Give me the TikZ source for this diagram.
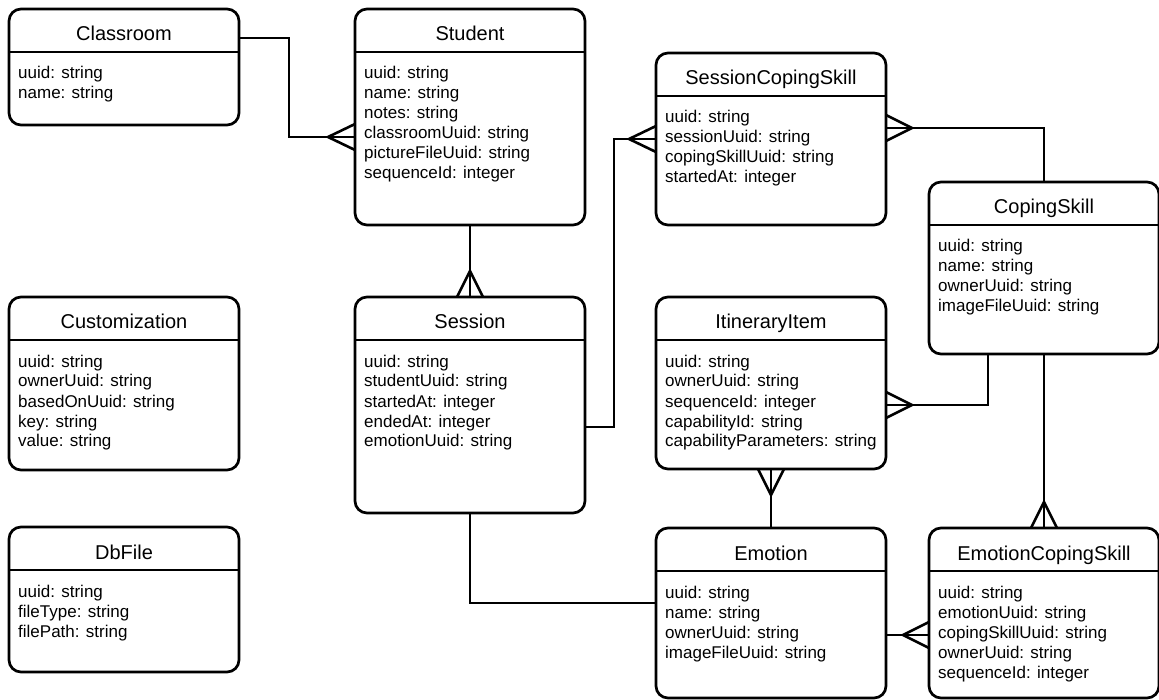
\documentclass[tikz,border=0pt]{standalone}
\usepackage{fontspec}
\setmainfont{Liberation Sans}
\usetikzlibrary{calc}
\tikzset{
  entbox/.style={draw, line width=2.7pt, rounded corners=12pt, rectangle, minimum width=230pt, anchor=north west, inner sep=0pt, outer sep=0pt, fill=white},
  entline/.style={line width=2.7pt},
  enttitle/.style={anchor=base, inner sep=0pt, font=\fontsize{20}{24}\selectfont},
  entbody/.style={anchor=base west, inner sep=0pt, font=\fontsize{17}{20}\selectfont},
  conn/.style={line width=2.6pt, line join=miter},
}
\newcommand\entity[6]{%
  \node[entbox, minimum height=#4pt] (#1) at (#2,#3) {};
  \draw[entline] ([yshift=-43pt]#1.north west) -- ([yshift=-43pt]#1.north east);
  \node[enttitle] (#1-title) at ([yshift=-32pt]#1.north) {#5};
  \node[entbody] (#1-body) at ([xshift=9pt,yshift=-70pt]#1.north west) {\begin{tabular}[t]{@{}l@{}}#6\end{tabular}};
}
\begin{document}
\begin{tikzpicture}[x=1pt,y=-1pt]
\fill[white] (0,0) rectangle (1159,700);
\useasboundingbox (0,0) rectangle (1159,700);

\entity{classroom}{9}{9}{116}{Classroom}{uuid: string\\name: string}
\entity{student}{355}{9}{216}{Student}{uuid: string\\name: string\\notes: string\\classroomUuid: string\\pictureFileUuid: string\\sequenceId: integer}
\entity{scs}{656}{53}{172}{SessionCopingSkill}{uuid: string\\sessionUuid: string\\copingSkillUuid: string\\startedAt: integer}
\entity{coping}{929}{182}{172}{CopingSkill}{uuid: string\\name: string\\ownerUuid: string\\imageFileUuid: string}
\entity{custom}{9}{297}{173}{Customization}{uuid: string\\ownerUuid: string\\basedOnUuid: string\\key: string\\value: string}
\entity{session}{355}{297}{216}{Session}{uuid: string\\studentUuid: string\\startedAt: integer\\endedAt: integer\\emotionUuid: string}
\entity{itin}{656}{297}{172}{ItineraryItem}{uuid: string\\ownerUuid: string\\sequenceId: integer\\capabilityId: string\\capabilityParameters: string}
\entity{dbfile}{9}{527}{145}{DbFile}{uuid: string\\fileType: string\\filePath: string}
\entity{emotion}{656}{528}{170}{Emotion}{uuid: string\\name: string\\ownerUuid: string\\imageFileUuid: string}
\entity{ecs}{929}{528}{170}{EmotionCopingSkill}{uuid: string\\emotionUuid: string\\copingSkillUuid: string\\ownerUuid: string\\sequenceId: integer}

% Classroom -- Student
\draw[conn] ($(classroom.north east)+(0,29)$) -| ($(student.north west)+(-66,128)$) -- ($(student.north west)+(0,128)$);
\draw[conn] ($(student.north west)+(0,115)$) -- ($(student.north west)+(-27,128)$) -- ($(student.north west)+(0,141)$);

% Student -- Session
\draw[conn] (student.south) -- (session.north);
\draw[conn] ($(session.north)+(-13,0)$) -- ($(session.north)+(0,-26)$) -- ($(session.north)+(13,0)$);

% Session -- SessionCopingSkill
\draw[conn] ($(session.north east)+(0,130)$) -| ($(scs.north west)+(-42,86)$) -- ($(scs.north west)+(0,86)$);
\draw[conn] ($(scs.north west)+(0,73)$) -- ($(scs.north west)+(-27,86)$) -- ($(scs.north west)+(0,99)$);

% SessionCopingSkill -- CopingSkill
\draw[conn] ($(scs.north east)+(0,75)$) -| (coping.north);
\draw[conn] ($(scs.north east)+(0,62)$) -- ($(scs.north east)+(26,75)$) -- ($(scs.north east)+(0,88)$);

% CopingSkill -- ItineraryItem
\draw[conn] ($(coping.south west)+(59,0)$) |- ($(itin.north east)+(0,108)$);
\draw[conn] ($(itin.north east)+(0,95)$) -- ($(itin.north east)+(26,108)$) -- ($(itin.north east)+(0,121)$);

% CopingSkill -- EmotionCopingSkill
\draw[conn] (coping.south) -- (ecs.north);
\draw[conn] ($(ecs.north)+(-13,0)$) -- ($(ecs.north)+(0,-26)$) -- ($(ecs.north)+(13,0)$);

% ItineraryItem -- Emotion
\draw[conn] (itin.south) -- (emotion.north);
\draw[conn] ($(itin.south)+(-13,0)$) -- ($(itin.south)+(0,26)$) -- ($(itin.south)+(13,0)$);

% Emotion -- EmotionCopingSkill
\draw[conn] ($(emotion.north east)+(0,107)$) -- ($(ecs.north west)+(0,107)$);
\draw[conn] ($(ecs.north west)+(0,94)$) -- ($(ecs.north west)+(-26,107)$) -- ($(ecs.north west)+(0,120)$);

% Session -- Emotion
\draw[conn] (session.south) |- ($(emotion.north west)+(0,75)$);
\end{tikzpicture}
\end{document}
